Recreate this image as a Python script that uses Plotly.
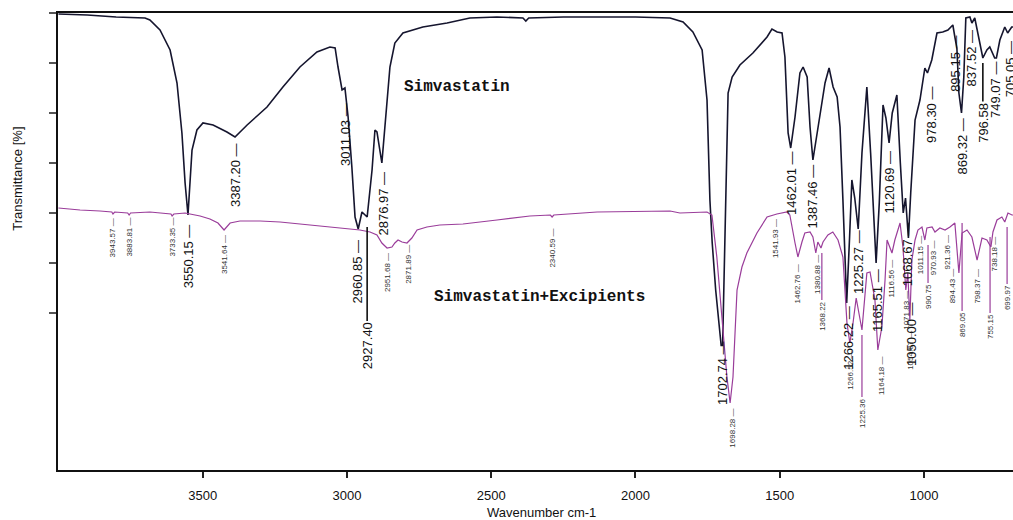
import plotly.graph_objects as go

# ---------------- data (wavenumber cm-1, transmittance %) ----------------
simva_wn = [4000, 3900, 3800, 3700, 3683, 3648, 3613, 3589, 3572, 3561,
            3551, 3537, 3520, 3499, 3464, 3416, 3388, 3346, 3277, 3222,
            3163, 3104, 3059, 3041, 3031, 3017, 3007, 2996, 2983, 2972,
            2961, 2948, 2930, 2913, 2903, 2896, 2879, 2861, 2851, 2834,
            2806, 2737, 2653, 2574, 2480, 2390, 2380, 2370, 2250, 2000,
            1880, 1835, 1801, 1769, 1752, 1742, 1734, 1722, 1710, 1703,
            1698, 1692, 1685, 1679, 1665, 1638, 1593, 1544, 1527, 1509,
            1492, 1482, 1471, 1462, 1447, 1430, 1419, 1405, 1395, 1385,
            1367, 1343, 1329, 1315, 1301, 1291, 1281, 1268, 1258, 1250,
            1240, 1228, 1215, 1198, 1185, 1166, 1155, 1142, 1132, 1121,
            1110, 1094, 1082, 1072, 1064, 1054, 1046, 1040, 1031, 1014,
            997, 988, 973, 955, 935, 917, 900, 893, 886, 879,
            870, 862, 855, 841, 834, 824, 813, 796, 782, 772,
            755, 749, 737, 720, 710, 696, 690]
simva_T = [99.8, 99.6, 99.2, 99, 98.6, 96.6, 92.6, 86, 76, 66,
           59.6, 72.6, 76.6, 78, 77.6, 76.2, 75.2, 77.6, 81.2, 85.2,
           89.2, 92.2, 93.2, 93, 89.2, 84.6, 85, 79.2, 69.2, 59.2,
           56.8, 60.2, 59.2, 68.6, 76.6, 76.2, 70, 82.6, 89.2, 94,
           96, 97.2, 98, 99, 99.2, 99, 98.4, 99, 99.2, 99.2,
           99, 98.2, 96.2, 92.6, 82.6, 62.6, 54, 44.6, 37, 33.5,
           33.5, 50, 70, 84, 87.2, 89.6, 92, 95.2, 96.8, 96.2,
           96, 91.2, 76, 73, 79.2, 88, 89.2, 87.2, 77.2, 70.6,
           77.2, 86, 89, 85.2, 83.2, 77.2, 62.6, 42, 55, 66.6,
           63, 56.8, 72, 85.2, 72, 50, 62, 81.6, 79, 74,
           80, 83.6, 70, 60, 63, 55, 64, 71, 78.6, 82.6,
           89, 88, 90.6, 96, 96.2, 96.6, 97.6, 95.2, 93, 84,
           80, 87.2, 99, 99.2, 98, 99, 96, 91, 92.6, 93.2,
           91, 91, 94.6, 97.2, 96, 97.2, 97.2]

exc_wn = [4000, 3925, 3856, 3815, 3811, 3805, 3760, 3755, 3750, 3683,
          3610, 3606, 3600, 3561, 3544, 3509, 3475, 3447, 3426, 3405,
          3371, 3301, 3232, 3163, 3094, 3024, 2955, 2920, 2896, 2879,
          2861, 2844, 2834, 2823, 2809, 2792, 2775, 2757, 2723, 2678,
          2598, 2480, 2366, 2295, 2289, 2283, 2133, 1880, 1846, 1752,
          1735, 1718, 1700, 1683, 1672, 1662, 1648, 1631, 1614, 1579,
          1544, 1510, 1475, 1465, 1447, 1437, 1423, 1413, 1395, 1385,
          1375, 1368, 1357, 1350, 1333, 1316, 1298, 1281, 1267, 1257,
          1246, 1235, 1215, 1198, 1187, 1170, 1160, 1146, 1135, 1128,
          1111, 1101, 1083, 1073, 1063, 1056, 1049, 1042, 1031, 1021,
          1007, 997, 990, 972, 962, 945, 927, 910, 893, 886,
          879, 868, 851, 834, 816, 799, 782, 768, 761, 747,
          730, 720, 709, 695, 690]
exc_T = [61, 60.6, 60.4, 60.2, 59.8, 60.2, 60, 59.6, 60, 60.2,
         59.8, 59.4, 59.8, 60, 59.8, 59.4, 58.8, 58, 56.6, 58,
         58.4, 58.4, 58.2, 57.8, 57.4, 57, 56.6, 56.2, 55.6, 54,
         53, 53.2, 54, 54.6, 54.2, 54, 55, 56.6, 57.2, 57.6,
         57.8, 58.6, 59.4, 59.6, 59.2, 59.6, 60.2, 60.4, 60, 60.2,
         59.6, 51.2, 38, 27.2, 22, 27.2, 44.6, 49.2, 52, 56,
         59.2, 59.8, 60.2, 59.6, 54, 51.2, 54.2, 56, 56.2, 55.2,
         52, 54.2, 53, 54.2, 55.6, 56.2, 54.6, 51.2, 38, 34,
         38, 43, 36.6, 48, 48.2, 42.6, 32.6, 37.2, 46.6, 54.6,
         52, 54.6, 58, 53.2, 44.6, 48, 38.6, 50.6, 54.6, 56.6,
         57.2, 54.6, 57, 57.2, 56.2, 57, 56.6, 57.2, 58, 53.2,
         48, 56, 56.6, 55.2, 50.6, 55, 54.6, 53.2, 56.2, 58.6,
         59.2, 58.2, 60, 59.6, 59.6]

x_ticks = [3500, 3000, 2500, 2000, 1500, 1000]
y_ticks = [40, 50, 60, 70, 80, 90, 100]

# peak labels of the pure drug (text, wavenumber, transmittance of label centre)
simva_lbl = ["3550.15", "3387.20", "3011.03", "2876.97", "2960.85", "1702.74",
             "1462.01", "1387.46", "1266.22", "1225.27", "1165.51", "1120.69",
             "1068.67", "1050.00", "978.30", "895.15", "869.32", "837.52",
             "749.07", "705.05"]
simva_lbl_wn = [3550, 3388, 3007, 2875, 2965, 1700, 1461, 1385, 1264, 1229,
                1163, 1121, 1058, 1045, 976, 893, 868, 834, 754, 701]
simva_lbl_T = [51.4, 67.6, 75.8, 61.9, 48.3, 28.0, 66.0, 63.3, 35.0, 50.2,
               42.6, 66.1, 51.8, 35.8, 79.6, 89.8, 73.3, 90.9, 84.6, 88.8]
# labels joined to their band by a longer line (text, wavenumber, T at line top, offset px)
simva_lead = ["2927.40", "796.58"]
simva_lead_wn = [2930, 796]
simva_lead_T = [57.2, 90.0]
simva_lead_off = [119, 60]

exc_lbl = ["3943.57", "3883.81", "3733.35", "3541.64", "2951.68", "2871.89",
           "2340.59", "1541.93", "1462.76", "1380.88", "1698.28", "1266.52",
           "1164.18", "1116.56", "1071.83", "1054.67", "1011.15", "970.93",
           "921.36", "894.43", "798.37", "738.18"]
exc_lbl_wn = [3811, 3755, 3606, 3426, 2861, 2789, 2289, 1516, 1437, 1371,
              1665, 1257, 1149, 1114, 1063, 1049, 1011, 966, 920, 900, 816, 754]
exc_lbl_T = [55.1, 55.1, 55.1, 51.6, 48.0, 49.8, 52.9, 54.8, 45.9, 47.8,
             16.9, 28.6, 27.4, 46.9, 40.6, 32.6, 51.7, 51.1, 52.1, 45.5, 45.3, 51.9]
exc_lead = ["1368.22", "1225.36", "990.75", "869.05", "755.15", "699.97"]
exc_lead_wn = [1354, 1215, 986, 868, 771, 712]
exc_lead_T = [52.0, 35.6, 53.6, 58.0, 55.2, 57.2]
exc_lead_off = [63, 78, 52, 102, 90, 71]

# ---------------- figure ----------------
SANS = "Liberation Sans, Arial, sans-serif"
MONO = "Liberation Mono, Courier New, monospace"
BLACK = "#15152e"
PURPLE = "#9a3d9a"

fig = go.Figure()
fig.add_trace(go.Scatter(x=simva_wn, y=simva_T, mode="lines",
                         line=dict(color=BLACK, width=1.6), name="Simvastatin"))
fig.add_trace(go.Scatter(x=exc_wn, y=exc_T, mode="lines",
                         line=dict(color=PURPLE, width=1.2), name="Simvastatin+Excipients"))

ann = []
for t, xw, yt in zip(simva_lbl, simva_lbl_wn, simva_lbl_T):
    ann.append(dict(x=xw, y=yt, text=t + " \u2014", showarrow=False, textangle=-90,
                    xanchor="center", yanchor="middle",
                    font=dict(family=SANS, size=13, color="#111")))
for t, xw, yt, off in zip(simva_lead, simva_lead_wn, simva_lead_T, simva_lead_off):
    ann.append(dict(x=xw, y=yt, text=t, showarrow=True, arrowhead=0, arrowwidth=1.6,
                    arrowcolor="#111", ax=0, ay=off, standoff=0, textangle=-90,
                    font=dict(family=SANS, size=13, color="#111")))
for t, xw, yt in zip(exc_lbl, exc_lbl_wn, exc_lbl_T):
    ann.append(dict(x=xw, y=yt, text=t + " \u2014", showarrow=False, textangle=-90,
                    xanchor="center", yanchor="middle",
                    font=dict(family=SANS, size=8, color="#333")))
for t, xw, yt, off in zip(exc_lead, exc_lead_wn, exc_lead_T, exc_lead_off):
    ann.append(dict(x=xw, y=yt, text=t, showarrow=True, arrowhead=0, arrowwidth=1.2,
                    arrowcolor=PURPLE, ax=0, ay=off, standoff=0, textangle=-90,
                    font=dict(family=SANS, size=8, color="#333")))

ann.append(dict(x=2619, y=85.2, text="<b>Simvastatin</b>", showarrow=False,
                font=dict(family=MONO, size=16, color="#111")))
ann.append(dict(x=2331, y=43.2, text="<b>Simvastatin+Excipients</b>", showarrow=False,
                font=dict(family=MONO, size=16, color="#111")))
ann.append(dict(x=2327, xref="x", y=-0.092, yref="paper", text="Wavenumber cm-1",
                showarrow=False, yanchor="middle",
                font=dict(family=SANS, size=13, color="#111")))
ann.append(dict(x=-0.042, xref="paper", y=0.637, yref="paper", text="Transmittance [%]",
                showarrow=False, textangle=-90, xanchor="center", yanchor="middle",
                font=dict(family=SANS, size=13, color="#111")))

fig.update_layout(
    width=1013, height=520,
    margin=dict(l=58, r=0, t=13, b=50),
    paper_bgcolor="white", plot_bgcolor="white",
    showlegend=False,
    annotations=ann,
    xaxis=dict(range=[4001.5, 691.5], tickvals=x_ticks, ticks="outside", ticklen=6,
               tickwidth=1.5, tickcolor="#222", showline=True, linewidth=2,
               linecolor="#111", mirror=True, showgrid=False, zeroline=False,
               ticklabelstandoff=6,
               tickfont=dict(family=SANS, size=13, color="#111")),
    yaxis=dict(range=[8.6, 100], tickvals=y_ticks, ticks="outside", ticklen=7,
               tickwidth=1.5, tickcolor="#555", showticklabels=False, showline=True,
               linewidth=2, linecolor="#111", showgrid=False, zeroline=False),
)

# remove the browser's default page margin so the figure fills the window exactly
fig.write_html("out.html",
               config={"displayModeBar": False},
               post_script="document.body.style.margin='0px';"
                           "document.body.style.overflow='hidden';")
